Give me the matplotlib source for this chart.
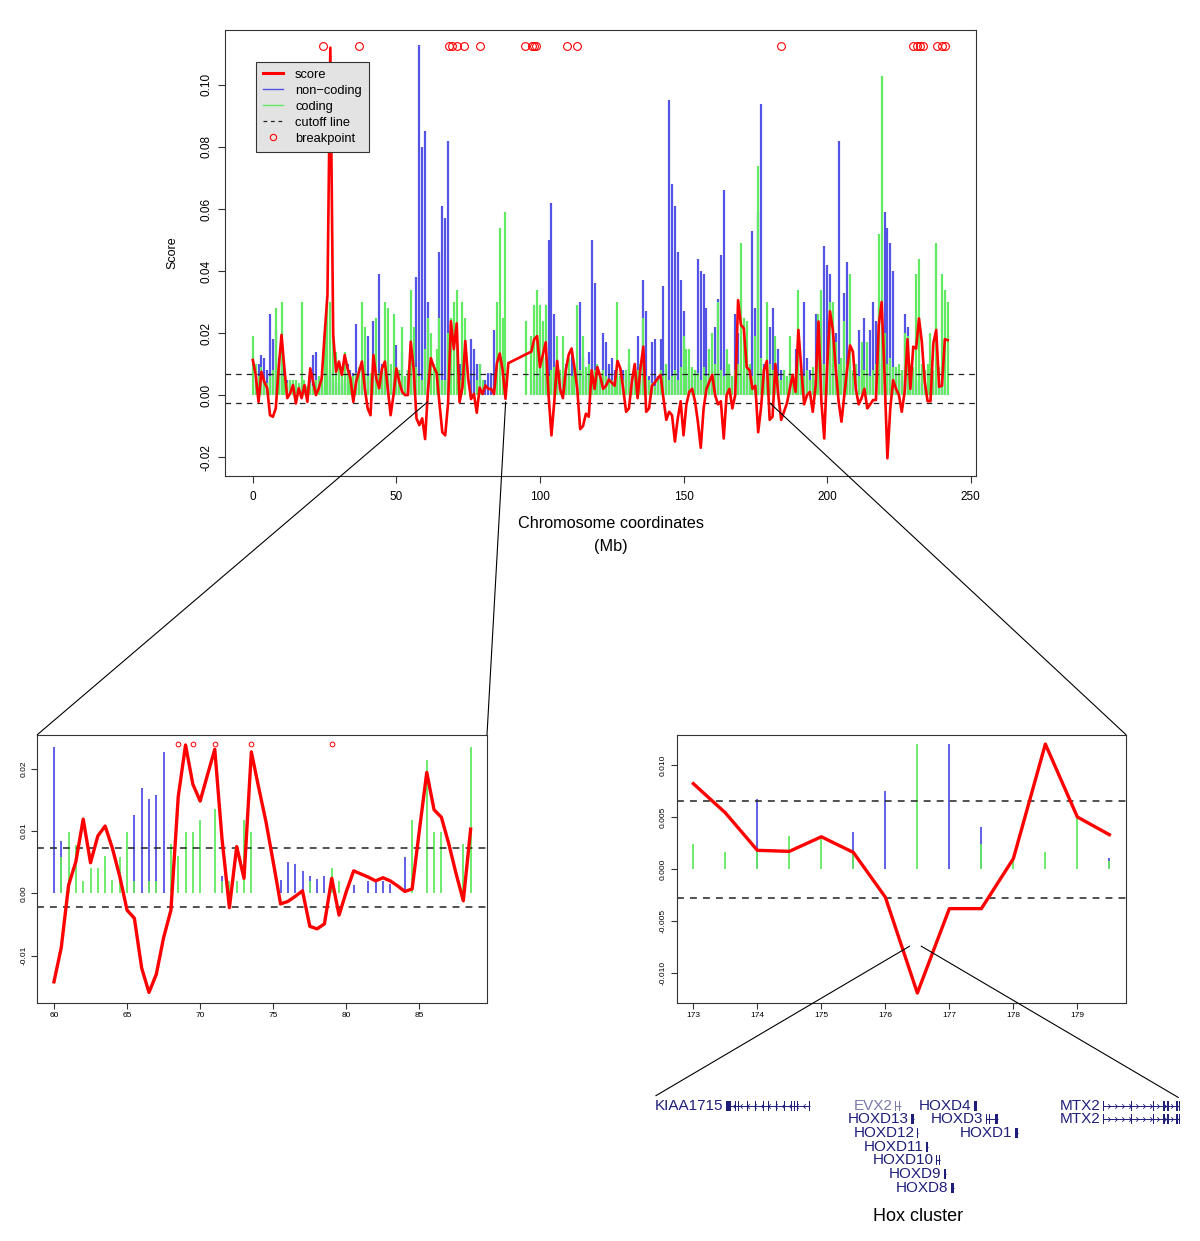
import numpy as np
import matplotlib
matplotlib.use("Agg")
import matplotlib.pyplot as plt
from matplotlib.patches import ConnectionPatch
from matplotlib.lines import Line2D
from matplotlib.path import Path

plt.rcParams['font.family'] = ['Liberation Sans', 'DejaVu Sans']
plt.rcParams['axes.unicode_minus'] = False

RED = '#ff0000'
BLUE = '#5353e6'
GREEN = '#62ea62'
NAVY = '#1f1f7a'

# ---------------- overview: chromosome 2, 1 Mb bins (values x 1e-3) ----------------
chrom_mb = np.arange(0, 243)
score = np.array([
    11.3, 6.5, -2.2, 7.5, 4.3, 2.2, -6.5, -7.0, -4.3, 8.6,
    19.4, 8.6, -1.0, 0.5, 3.2, -2.7, 2.2, -1.0, 3.2, -2.2,
    8.6, 4.3, 0.0, 2.2, 5.4, 19.4, 32.3, 112.0, 19.4, 7.5,
    10.8, 6.5, 12.9, 8.6, 5.4, -2.2, 4.3, 7.5, 10.8, 2.2,
    -4.3, -6.5, 12.9, 5.4, 2.2, 8.6, 10.8, 2.2, -6.5, 0.0,
    8.6, 4.3, 1.1, 0.0, 0.0, 17.2, 8.6, -7.5, -9.7, -7.5,
    -14.2, 1.3, 11.9, 9.2, 7.2, -2.7, -12.0, -13.0, -2.7, 23.8,
    14.8, 23.1, -2.3, 2.4, 17.4, 5.3, -1.3, 0.4, -5.7, 2.4,
    0.3, 3.1, 2.0, 2.0, 0.3, 10.2, 13.4, 8.0, -1.2, 10.3,
    np.nan, np.nan, np.nan, np.nan, np.nan, np.nan, np.nan, 14.0, 18.0, 19.0,
    9.0, 13.0, 17.0, 0.0, -13.0, -2.0, 11.0, 2.0, -1.0, 8.0,
    13.0, 15.0, 9.0, 2.0, -11.0, -10.0, -6.0, -7.0, 8.0, 2.0,
    9.0, 6.0, 2.0, 3.0, 5.0, 4.0, 3.0, 11.0, 8.6, 2.0,
    -5.4, -4.3, 4.3, 10.0, -1.0, 8.6, 15.6, -5.4, -4.3, 3.0,
    4.0, 5.4, 6.5, -1.0, -8.0, -5.4, -6.5, -15.0, -7.5, -2.0,
    -13.0, -3.0, 1.0, 2.0, -2.0, -8.6, -17.0, -4.3, 2.0, 4.3,
    6.5, 0.0, -3.0, -2.0, -14.0, 0.0, 2.0, -4.3, 0.0, 30.6,
    22.6, 21.5, 9.0, 8.0, 2.0, 3.0, -12.0, -4.0, 8.0, 11.0,
    -8.0, -7.0, 10.0, 0.0, -8.0, -5.4, -2.7, 2.0, 6.5, 1.0,
    21.0, 8.6, -3.0, 0.0, 1.0, -5.4, 3.0, 23.7, -2.0, -14.0,
    8.6, 27.0, 21.0, 8.6, -2.0, -8.6, 0.0, 8.6, 16.0, 14.0,
    2.0, -3.0, -1.0, 2.0, -4.3, -3.0, -1.6, -1.6, 22.6, 30.0,
    6.5, -20.4, -4.3, 4.8, 2.0, 0.0, -5.4, 1.0, 18.0, 2.0,
    15.6, 15.0, 24.7, 17.0, 4.3, -2.0, -2.0, 16.7, 21.0, 2.7,
    3.0, 18.0, 17.7]) * 1e-3

noncoding = np.array([
    0, 5, 10, 13, 12, 8, 26, 18, 21, 12,
    10, 10, 5, 3, 4, 3, 2, 3, 4, 3,
    6, 13, 14, 4, 3, 5, 6, 8, 5, 4,
    3, 5, 4, 10, 8, 7, 23, 5, 3, 6,
    19, 5, 24, 6, 39, 10, 7, 5, 8, 4,
    16, 8, 14, 6, 8, 5, 10, 38, 113, 80,
    85, 30, 0, 0, 0, 46, 61, 57, 82, 0,
    0, 0, 10, 0, 0, 0, 18, 15, 10, 10,
    0, 5, 7, 7, 21, 0, 0, 0, 0, 0,
    0, 0, 0, 0, 0, 0, 0, 0, 5, 8,
    10, 6, 12, 50, 62, 26, 8, 5, 6, 10,
    5, 14, 6, 8, 30, 12, 6, 14, 50, 36,
    8, 5, 20, 17, 10, 12, 8, 5, 6, 8,
    7, 10, 6, 8, 19, 5, 37, 27, 6, 17,
    18, 6, 18, 35, 8, 95, 68, 61, 46, 37,
    27, 6, 9, 5, 8, 44, 40, 39, 28, 6,
    8, 22, 31, 45, 66, 10, 8, 6, 26, 20,
    8, 6, 10, 8, 53, 28, 59, 94, 10, 8,
    22, 28, 8, 15, 8, 8, 6, 5, 6, 15,
    10, 8, 30, 12, 8, 5, 26, 8, 24, 48,
    42, 39, 10, 20, 82, 8, 33, 43, 10, 6,
    8, 21, 8, 25, 6, 21, 30, 24, 28, 10,
    59, 54, 49, 40, 8, 5, 6, 26, 22, 6,
    8, 5, 4, 6, 3, 4, 3, 5, 4, 3,
    5, 4, 0]) * 1e-3

coding = np.array([
    19, 10, 6, 9, 5, 4, 6, 8, 28, 9,
    30, 6, 4, 5, 5, 5, 4, 30, 5, 3,
    4, 3, 5, 6, 8, 20, 32, 30, 19, 14,
    9, 8, 14, 8, 6, 6, 7, 9, 30, 22,
    6, 7, 8, 25, 7, 9, 30, 28, 10, 26,
    9, 8, 22, 6, 8, 34, 22, 9, 6, 5,
    15, 25, 20, 10, 15, 25, 5, 5, 20, 25,
    30, 34, 5, 30, 25, 0, 0, 0, 5, 10,
    5, 0, 0, 0, 0, 30, 54, 25, 59, 0,
    0, 0, 0, 0, 0, 24, 0, 19, 29, 34,
    29, 24, 29, 6, 8, 9, 19, 8, 19, 9,
    12, 6, 9, 29, 8, 19, 9, 10, 6, 8,
    10, 6, 8, 6, 5, 5, 4, 30, 6, 5,
    8, 15, 6, 9, 8, 10, 25, 6, 5, 4,
    3, 5, 8, 6, 10, 5, 6, 8, 5, 9,
    19, 15, 15, 9, 8, 7, 5, 9, 6, 15,
    20, 10, 30, 8, 6, 15, 10, 6, 8, 10,
    49, 25, 24, 10, 6, 19, 74, 12, 6, 30,
    10, 8, 19, 6, 5, 8, 6, 19, 5, 6,
    34, 9, 6, 8, 5, 9, 6, 26, 34, 10,
    8, 30, 30, 17, 10, 12, 24, 10, 39, 8,
    10, 6, 17, 8, 17, 6, 8, 10, 52, 103,
    20, 10, 12, 9, 9, 10, 8, 20, 19, 10,
    9, 39, 44, 10, 8, 10, 20, 8, 49, 9,
    39, 34, 30]) * 1e-3

breakpoints = [24.3, 37.1, 68.5, 69.5, 71.0, 73.5, 79.0, 94.8, 97.1, 97.9, 98.6,
               109.5, 113.0, 183.8, 230.0, 231.2, 232.3, 233.5, 238.1, 239.9, 241.0]
cutoff = (0.0069, -0.0027)

# ---------------- zoom 1: 60-88.5 Mb, 0.5 Mb steps (x 1e-3) ----------------
z1_mb = np.arange(60, 88.51, 0.5)
z1_score = np.array([
    -14.2, -8.7, 1.3, 5.1, 11.9, 4.9, 9.2, 10.8, 7.2, 2.7,
    -2.7, -4.0, -12.0, -15.9, -13.0, -7.1, -2.7, 15.5, 23.8, 17.5,
    14.8, 19.0, 23.1, 8.6, -2.3, 7.5, 2.4, 22.7, 17.0, 11.5,
    5.0, -1.7, -1.3, -0.5, 0.4, -5.3, -5.7, -4.9, 2.4, -3.5,
    0.3, 3.6, 3.1, 2.6, 2.0, 2.5, 2.0, 1.2, 0.3, 0.7,
    10.2, 19.4, 13.4, 12.2, 8.0, 3.2, -1.2, 10.3]) * 1e-3
z1_noncoding = np.array([
    23.4, 8.4, 0, 0, 0, 0, 0, 0, 0, 0,
    0, 12.6, 16.9, 15.2, 15.7, 22.6, 0, 0, 0, 0,
    0, 0, 0, 2.7, 0, 0, 0, 0, 0, 0,
    0, 2.1, 5.0, 4.7, 3.6, 2.7, 2.3, 2.7, 0, 0,
    0, 1.3, 0, 2.0, 1.9, 2.0, 1.5, 0, 5.8, 0,
    0, 0, 0, 0, 0, 0, 0, 0]) * 1e-3
z1_coding = np.array([
    0, 5.9, 9.8, 7.8, 2.0, 4.0, 4.0, 6.0, 2.1, 5.9,
    9.8, 2.0, 0, 1.9, 2.0, 0, 7.9, 6.0, 9.8, 9.8,
    11.8, 0, 13.6, 2.0, 1.9, 2.0, 11.8, 9.8, 0, 0,
    0, 0, 0, 0, 0, 2.0, 0, 0, 4.0, 2.0,
    0, 0, 0, 0, 0, 0, 0, 0, 0, 11.8,
    0, 21.4, 9.8, 9.8, 0, 0, 7.9, 23.4]) * 1e-3
z1_breakpoints = [68.5, 69.5, 71.0, 73.5, 79.0]
z1_cutoff = (0.0072, -0.0022)

# ---------------- zoom 2: 173-179.5 Mb, 0.5 Mb steps (x 1e-3) ----------------
z2_mb = np.arange(173, 179.51, 0.5)
z2_score = np.array([8.2, 5.4, 1.8, 1.7, 3.1, 1.6, -2.7, -11.9, -3.8, -3.8, 1.0, 12.0, 5.0, 3.3]) * 1e-3
z2_noncoding = np.array([0, 0, 6.7, 0, 0, 3.6, 7.5, 0, 12.0, 4.0, 0, 0, 0, 1.1]) * 1e-3
z2_coding = np.array([2.4, 1.6, 1.8, 3.2, 3.2, 1.6, 0, 12.0, 0, 2.4, 0.8, 1.6, 4.9, 0.8]) * 1e-3
z2_cutoff = (0.0065, -0.0028)

# ---------------- genes around the HOXD cluster (kb from left edge of track) ----------------
gene_name = ['KIAA1715', 'EVX2', 'HOXD13', 'HOXD12', 'HOXD11', 'HOXD10', 'HOXD9', 'HOXD8',
             'HOXD4', 'HOXD3', 'HOXD1', 'MTX2', 'MTX2']
gene_row = [0, 0, 1, 2, 3, 4, 5, 6, 0, 1, 2, 0, 1]
gene_start = [71, 240, 256, 262, 271, 281, 289, 296, 319, 331, 360, 448, 448]
gene_end = [155, 246, 259, 263, 273, 285, 291, 299, 321, 343, 363, 525, 525]
gene_strand = [-1, -1, -1, -1, -1, -1, -1, -1, -1, -1, -1, 1, 1]
gene_exons = [
    [(71, 5), (80, 1), (83, 1), (92, 0.7), (100, 0.7), (108, 0.7), (113, 0.7),
     (121, 0.7), (129, 0.7), (136, 1), (139, 1), (142, 0.7), (154, 0.7)],
    [(240, 1.2), (244, 1.2)], [(256, 3)], [(262, 1)], [(271, 2)],
    [(281, 1.2), (284, 1.2)], [(289, 2)], [(296, 2.5)], [(319, 2.5)],
    [(331, 0.7), (334, 0.7), (340, 3)], [(360, 2.5)],
    [(448, 0.8), (476, 1), (498, 1), (508, 1.5), (512, 2), (521, 1.5), (524, 1)],
    [(448, 0.8), (476, 1), (498, 1), (508, 1.5), (512, 2), (521, 1.5), (524, 1)]]
gene_color = [NAVY, '#7a7aaa'] + [NAVY] * 11

W, H = 1200, 1241
fig = plt.figure(figsize=(W / 100, H / 100), dpi=100)


def px_axes(left, top, right, bottom):
    return fig.add_axes([left / W, 1 - bottom / H, (right - left) / W, (bottom - top) / H])


def style_axes(ax, size, length):
    for s in ax.spines.values():
        s.set_linewidth(0.8)
        s.set_color('#333333')
    ax.tick_params(labelsize=size, length=length, width=0.8, color='#333333')


def draw_track(ax, x, nc, cd, sc, cut, bar_lw, line_lw, dash):
    m = nc > 0
    ax.vlines(x[m], 0, nc[m], color=BLUE, lw=bar_lw, zorder=1)
    m = cd > 0
    ax.vlines(x[m], 0, cd[m], color=GREEN, lw=bar_lw, zorder=1.5)
    for c in cut:
        ax.axhline(c, color='#222222', lw=dash, ls=(0, (4.5, 4)), zorder=2)
    ok = ~np.isnan(sc)
    ax.plot(x[ok], sc[ok], color=RED, lw=line_lw, solid_joinstyle='round', zorder=3)


# ---------------- overview ----------------
ax = px_axes(225, 30, 975.5, 476)
draw_track(ax, chrom_mb, noncoding, coding, score, cutoff, 1.6, 1.9, 0.9)
ax.plot(breakpoints, np.full(len(breakpoints), 0.1124), 'o', ms=5.6, mfc='none',
        mec=RED, mew=0.8, zorder=4)
ax.set_xlim(-9.68, 251.68)
ax.set_ylim(-0.0261, 0.1177)
ax.set_xticks([0, 50, 100, 150, 200, 250])
yt = [-0.02, 0.0, 0.02, 0.04, 0.06, 0.08, 0.10]
ax.set_yticks(yt)
ax.set_yticklabels([f'{v:.2f}' for v in yt], rotation=90, va='center')
style_axes(ax, 8.5, 5)
ax.tick_params(axis='x', pad=6)
ax.tick_params(axis='y', pad=4)
fig.text(172 / W, 1 - 253 / H, 'Score', rotation=90, ha='center', va='center', fontsize=9)
fig.text(611 / W, 1 - 524 / H, 'Chromosome coordinates', ha='center', va='center', fontsize=11.7)
fig.text(611 / W, 1 - 546 / H, '(Mb)', ha='center', va='center', fontsize=11.7)

handles = [Line2D([], [], color=RED, lw=2.2),
           Line2D([], [], color=BLUE, lw=1.0),
           Line2D([], [], color=GREEN, lw=1.0),
           Line2D([], [], color='#222222', lw=0.9, ls=(0, (3, 3))),
           Line2D([], [], ls='none', marker='o', ms=4.5, mfc='none', mec=RED, mew=0.8)]
leg = ax.legend(handles, ['score', 'non\u2212coding', 'coding', 'cutoff line', 'breakpoint'],
                loc='upper left', bbox_to_anchor=((255.7 - 225) / 750.5, (476 - 61.7) / 446),
                borderaxespad=0, fontsize=9.3, handlelength=1.6, handletextpad=0.9,
                labelspacing=0.3, borderpad=0.55, fancybox=False, framealpha=1,
                facecolor='#e3e3e3', edgecolor='#333333')
leg.get_frame().set_linewidth(0.8)

# ---------------- zoom panels ----------------
ax1 = px_axes(37.3, 734.7, 487, 1002.7)
draw_track(ax1, z1_mb, z1_noncoding, z1_coding, z1_score, z1_cutoff, 1.3, 2.4, 1.1)
ax1.plot(z1_breakpoints, np.full(len(z1_breakpoints), 0.0239), 'o', ms=3.4, mfc='none',
         mec=RED, mew=0.7, zorder=4)
ax1.set_xlim(58.86, 89.62)
ax1.set_ylim(-0.01755, 0.02545)
ax1.set_xticks([60, 65, 70, 75, 80, 85])
yt1 = [-0.01, 0.0, 0.01, 0.02]
ax1.set_yticks(yt1)
ax1.set_yticklabels([f'{v:.2f}' for v in yt1], rotation=90, va='center')
style_axes(ax1, 6, 4)
ax1.tick_params(pad=3)

ax2 = px_axes(676.7, 734.7, 1126, 1002.7)
draw_track(ax2, z2_mb, z2_noncoding, z2_coding, z2_score, z2_cutoff, 1.3, 2.4, 1.1)
ax2.set_xlim(172.74, 179.76)
ax2.set_ylim(-0.01283, 0.0129)
ax2.set_xticks(range(173, 180))
yt2 = [-0.010, -0.005, 0.0, 0.005, 0.010]
ax2.set_yticks(yt2)
ax2.set_yticklabels([f'{v:.3f}' for v in yt2], rotation=90, va='center')
style_axes(ax2, 6, 4)
ax2.tick_params(pad=3)

# ---------------- gene track ----------------
axg = px_axes(655, 1095, 1180, 1230)
axg.set_xlim(0, 525)
axg.set_ylim(9.08, -0.774)
axg.axis('off')
chev_rev = Path([(1, 1), (0, 0), (1, -1)], [Path.MOVETO, Path.LINETO, Path.LINETO])
chev_fwd = Path([(-1, 1), (0, 0), (-1, -1)], [Path.MOVETO, Path.LINETO, Path.LINETO])
for name, row, s, e, strand, exons, col in zip(gene_name, gene_row, gene_start, gene_end,
                                               gene_strand, gene_exons, gene_color):
    axg.hlines(row, s, e, color=col, lw=0.7)
    axg.broken_barh(exons, (row - 0.36, 0.72), facecolors=col)
    if e - s > 30:
        cx = np.arange(s + 7, e - 4, 7)
        axg.plot(cx, np.full(len(cx), row), ls='none',
                 marker=chev_fwd if strand > 0 else chev_rev, ms=3.2, mfc='none',
                 mec=col, mew=0.6)
    axg.text(s - 2.5, row, name, ha='right', va='center', fontsize=11, color=col)
axg.text(263.5, 8.13, 'Hox cluster', ha='center', va='center', fontsize=13, color='black')

# ---------------- connector lines ----------------
links = [((60.9, -0.0022), ax, (0, 1), ax1, 'axes'),
         ((88.06, -0.0022), ax, (1, 1), ax1, 'axes'),
         ((180.1, -0.0026), ax, (1, 1), ax2, 'axes'),
         ((176.38, -0.0074), ax2, (0.8, -0.72), axg, 'data'),
         ((176.56, -0.0074), ax2, (523.4, -0.59), axg, 'data')]
for xyA, axA, xyB, axB, kind in links:
    cp = ConnectionPatch(xyA=xyA, coordsA=axA.transData, xyB=xyB,
                         coordsB=axB.transAxes if kind == 'axes' else axB.transData,
                         color='black', lw=0.8, zorder=10)
    fig.add_artist(cp)

fig.savefig('out.png', dpi=100)
